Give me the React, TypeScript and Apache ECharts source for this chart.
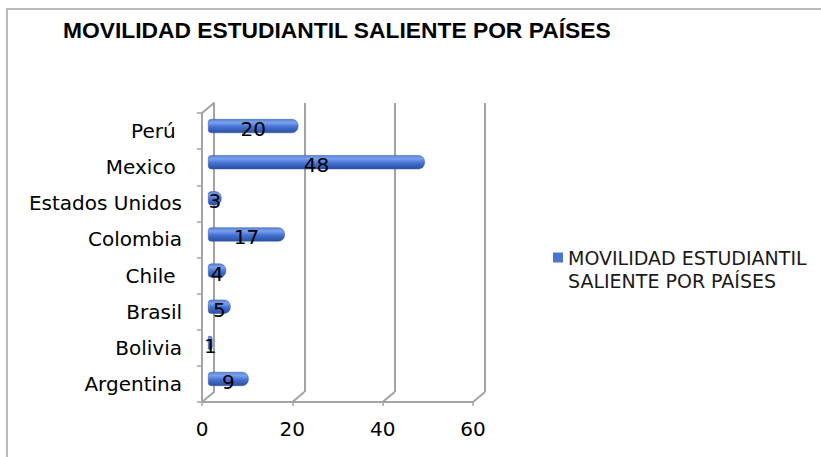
import React, { useEffect, useRef } from "react";
import * as echarts from "echarts";

const titleText = "MOVILIDAD ESTUDIANTIL SALIENTE POR PAÍSES";
const seriesName = "MOVILIDAD ESTUDIANTIL SALIENTE POR PAÍSES";
const categories = ["Argentina", "Bolivia", "Brasil", "Chile ", "Colombia", "Estados Unidos", "Mexico ", "Perú "];
const values = [9, 1, 5, 4, 17, 3, 48, 20];
const xTicks = [0, 20, 40, 60];

const FONT = "DejaVu Sans";
const GRID_COLOR = "#a3a3a3";
const DX = 12;
const DY = -10;

export default function App() {
  const ref = useRef<HTMLDivElement>(null);
  useEffect(() => {
    if (!ref.current) return;
    const chart = echarts.init(ref.current, null, { renderer: "svg" });
    const valueAxisBase = { type: "value", min: 0, max: 60, interval: 20 };
    const option: any = {
      animation: false,
      backgroundColor: "#ffffff",
      title: {
        text: titleText,
        left: 58,
        top: 13,
        textStyle: { fontFamily: "Liberation Sans", fontWeight: "bold", fontSize: 22.8, color: "#000" },
      },
      graphic: [
        {
          type: "rect",
          shape: { x: 7, y: 9, width: 900, height: 600 },
          style: { fill: "none", stroke: "#a6a6a6", lineWidth: 1.5 },
          silent: true,
          z: -10,
        },
      ],
      legend: {
        show: true,
        left: 548,
        top: 241,
        orient: "vertical",
        itemWidth: 10,
        itemHeight: 33,
        icon: "path://M0,0H10V10H0Z M0,33L0,33Z",
        itemStyle: { borderWidth: 0 },
        formatter: (name: string) => name.replace(" SALIENTE", "\nSALIENTE"),
        textStyle: { fontFamily: FONT, fontSize: 19, color: "#1a1a1a", lineHeight: 23 },
        data: [{ name: seriesName, itemStyle: { color: "#4a76cf", borderWidth: 0 } }],
      },
      grid: [
        { left: 202, top: 113, width: 271, height: 289 },
        { left: 214, top: 103, width: 271, height: 289 },
        { left: 208, top: 108, width: 271, height: 289 },
      ],
      xAxis: [
        {
          ...valueAxisBase,
          gridIndex: 0,
          axisLine: { show: true, lineStyle: { color: GRID_COLOR, width: 2 } },
          axisTick: { show: true, length: 4, lineStyle: { color: GRID_COLOR, width: 1.5 } },
          axisLabel: { fontFamily: FONT, fontSize: 20, color: "#000", margin: 17 },
          splitLine: { show: false },
        },
        {
          ...valueAxisBase,
          gridIndex: 1,
          axisLine: { show: false },
          axisTick: { show: false },
          axisLabel: { show: false },
          splitLine: { show: true, lineStyle: { color: GRID_COLOR, width: 2 } },
        },
        {
          ...valueAxisBase,
          gridIndex: 2,
          show: false,
          splitLine: { show: false },
        },
      ],
      yAxis: [
        {
          type: "category",
          gridIndex: 0,
          data: categories,
          axisLine: { show: true, lineStyle: { color: GRID_COLOR, width: 2 } },
          axisTick: { show: true, length: 5, lineStyle: { color: GRID_COLOR, width: 1.5 } },
          axisLabel: {
            fontFamily: FONT,
            fontSize: 20,
            color: "#000",
            margin: 20,
            formatter: (v: string) => v.replace(/ $/, "\u00a0"),
          },
          splitLine: { show: false },
        },
        {
          type: "category",
          gridIndex: 1,
          data: categories,
          axisLine: { show: true, lineStyle: { color: GRID_COLOR, width: 2 } },
          axisTick: { show: false },
          axisLabel: { show: false },
          splitLine: { show: false },
        },
        {
          type: "category",
          gridIndex: 2,
          data: categories,
          show: false,
        },
      ],
      series: [
        {
          type: "custom",
          xAxisIndex: 0,
          yAxisIndex: 0,
          silent: true,
          clip: false,
          z: 1,
          encode: { x: 0, y: 1 },
          data: xTicks.map((v) => [v, 0]),
          renderItem: (params: any, api: any) => {
            const cs = params.coordSys;
            const x = api.coord([api.value(0), 0])[0];
            const bottom = cs.y + cs.height;
            const lineStyle = { stroke: GRID_COLOR, lineWidth: 2 };
            const children: any[] = [
              { type: "line", shape: { x1: x, y1: bottom, x2: x + DX, y2: bottom + DY }, style: lineStyle },
            ];
            if (params.dataIndex === 0) {
              children.push({ type: "line", shape: { x1: x, y1: cs.y, x2: x + DX, y2: cs.y + DY }, style: lineStyle });
            }
            return { type: "group", children };
          },
        },
        {
          type: "bar",
          name: seriesName,
          xAxisIndex: 2,
          yAxisIndex: 2,
          data: values,
          barWidth: 14,
          z: 3,
          itemStyle: {
            color: new echarts.graphic.LinearGradient(0, 0, 0, 1, [
              { offset: 0, color: "#5a84d8" },
              { offset: 0.25, color: "#7aa0ec" },
              { offset: 0.55, color: "#4672d4" },
              { offset: 1, color: "#2a4f9e" },
            ]),
            borderRadius: [3, 6, 6, 3],
            borderColor: "#3559a8",
            borderWidth: 0.5,
          },
          label: {
            show: true,
            position: "inside",
            color: "#000",
            fontFamily: FONT,
            fontSize: 20,
            offset: [0, 3],
          },
        },
      ],
    };
    chart.setOption(option);
    return () => chart.dispose();
  }, []);
  return <div ref={ref} style={{ position: "fixed", left: 0, top: 0, width: 821, height: 457 }} />;
}
